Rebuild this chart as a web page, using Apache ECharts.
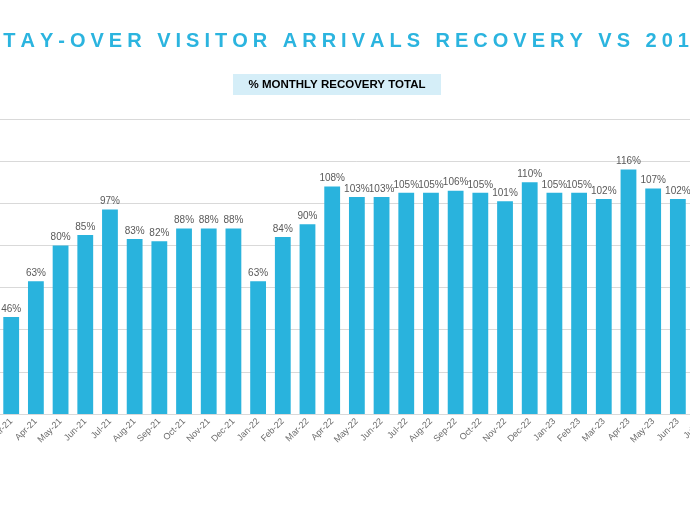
<!DOCTYPE html>
<html>
<head>
<meta charset="utf-8">
<script src="https://cdn.jsdelivr.net/npm/echarts@6/dist/echarts.min.js"></script>
<style>
html,body{margin:0;padding:0;background:#fff;overflow:hidden;width:690px;height:512px;}
#chart{position:absolute;left:-30px;top:0;width:750px;height:512px;}
</style>
</head>
<body>
<div id="chart"></div>
<script>
const titleText = 'STAY-OVER VISITOR ARRIVALS RECOVERY VS 2019';
const subtitleText = '% MONTHLY RECOVERY TOTAL';
const categories = ['Mar-21','Apr-21','May-21','Jun-21','Jul-21','Aug-21','Sep-21','Oct-21','Nov-21','Dec-21',
  'Jan-22','Feb-22','Mar-22','Apr-22','May-22','Jun-22','Jul-22','Aug-22','Sep-22','Oct-22','Nov-22','Dec-22',
  'Jan-23','Feb-23','Mar-23','Apr-23','May-23','Jun-23','Jul-23'];
const recovery = [46,63,80,85,97,83,82,88,88,88,
  63,84,90,108,103,103,105,105,106,105,101,110,
  105,105,102,116,107,102,null];
const yMin = 0, yMax = 140, yInterval = 20;

const chart = echarts.init(document.getElementById('chart'));
const richTitle = titleText.split('').map(c => '{s|' + c + '}').join('');

chart.setOption({
  backgroundColor: '#ffffff',
  animation: false,
  title: {
    text: richTitle,
    left: 'center',
    top: 29,
    padding: 0,
    textStyle: {
      rich: {
        s: {
          fontFamily: 'Liberation Sans, Arial, sans-serif',
          fontSize: 20,
          fontWeight: 'bold',
          color: '#2BB4DF',
          padding: [0, 2.5],
          lineHeight: 24
        }
      }
    }
  },
  graphic: [
    { type: 'rect', shape: { x: 263, y: 74, width: 208, height: 21 }, style: { fill: '#D5EEF8' }, silent: true },
    { type: 'text', x: 367, y: 85, style: { text: subtitleText, align: 'center', verticalAlign: 'middle',
      font: 'bold 11.5px "Liberation Sans", Arial, sans-serif', fill: '#000000' } }
  ],
  grid: { left: 28.85, right: 5.1, top: 119, bottom: 98, containLabel: false },
  xAxis: {
    type: 'category',
    data: categories,
    axisLine: { show: true, lineStyle: { color: '#D9D9D9', width: 1 } },
    axisTick: { show: false },
    axisLabel: {
      interval: 0, rotate: 45, margin: 6,
      fontFamily: 'Liberation Sans, Arial, sans-serif', fontSize: 9, color: '#6B6B6B'
    }
  },
  yAxis: {
    type: 'value',
    min: yMin, max: yMax, interval: yInterval,
    axisLine: { show: false },
    axisTick: { show: false },
    axisLabel: { show: false },
    splitLine: { lineStyle: { color: '#D9D9D9', width: 1 } }
  },
  series: [{
    type: 'bar',
    data: recovery,
    barWidth: '64%',
    itemStyle: { color: '#29B3DD' },
    label: {
      show: true, position: 'top', distance: 3,
      formatter: p => p.value + '%',
      fontFamily: 'Liberation Sans, Arial, sans-serif', fontSize: 10, color: '#595959'
    }
  }]
});
</script>
</body>
</html>
